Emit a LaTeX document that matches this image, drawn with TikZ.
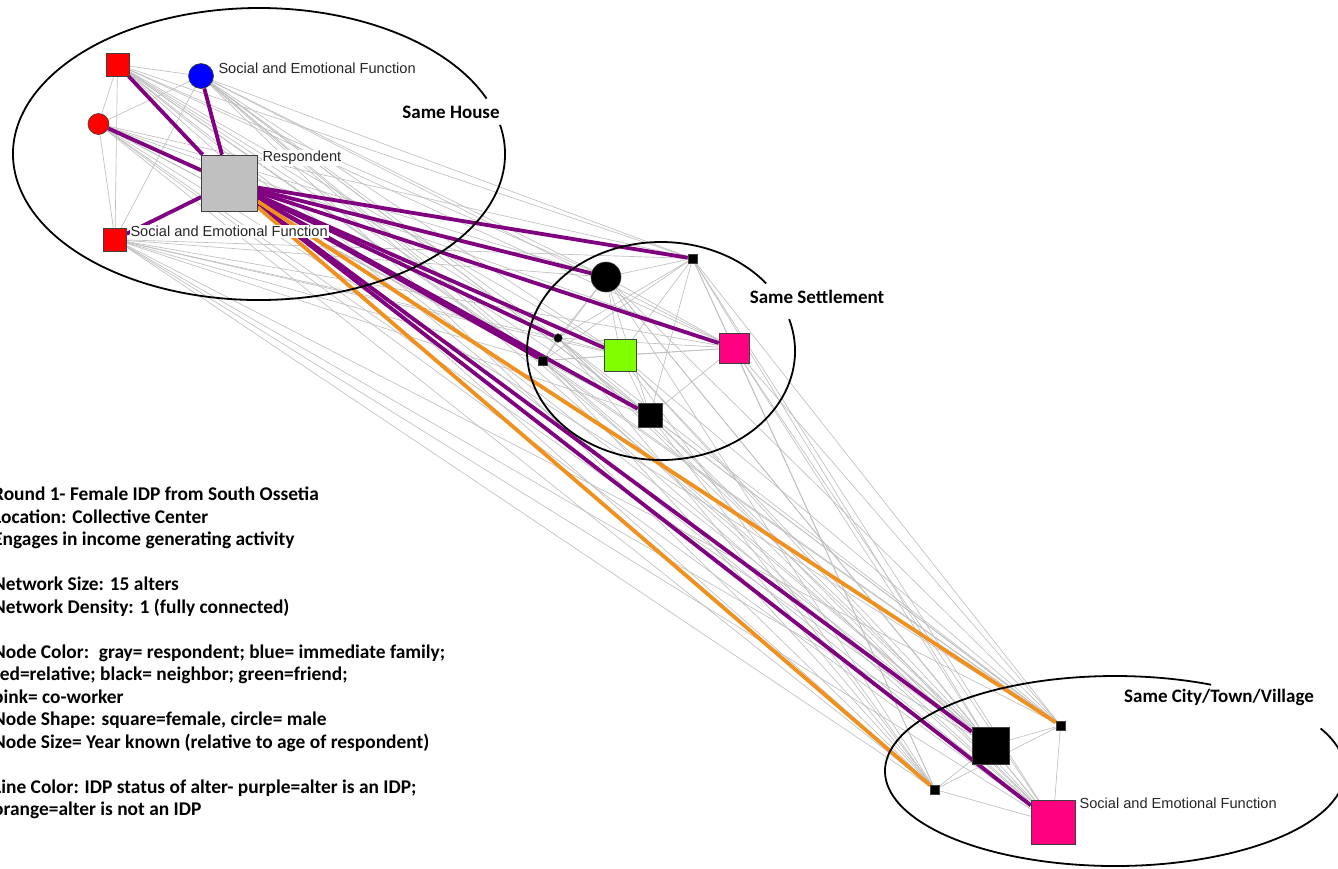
\documentclass[tikz,border=0pt]{standalone}
\usepackage{fontspec}
\setmainfont{Liberation Sans}
\newfontfamily\calib{Carlito}
\usepackage{xcolor}
\usepackage{tikz}
\definecolor{idpPurple}{HTML}{800080}
\definecolor{nonIdpOrange}{HTML}{F0901E}
\definecolor{tieGray}{HTML}{C0C0C0}
\definecolor{relRed}{HTML}{FF0000}
\definecolor{famBlue}{HTML}{0000FF}
\definecolor{friendGreen}{HTML}{80FF00}
\definecolor{coPink}{HTML}{FF0080}
\definecolor{respGray}{HTML}{C0C0C0}
\pgfdeclarelayer{bg}
\pgfdeclarelayer{ties}
\pgfsetlayers{bg,ties,main}

\tikzset{
  sq/.style={rectangle, draw=black!75, line width=0.6pt, inner sep=0pt, minimum size=#1},
  circ/.style={circle, draw=black!75, line width=0.6pt, inner sep=0pt, minimum size=#1},
  tie/.style={draw=tieGray, line width=0.65pt},
  idp/.style={draw=idpPurple, line width=3.8pt},
  nonidp/.style={draw=nonIdpOrange, line width=3.8pt},
  zone/.style={draw=black, line width=1.8pt},
  zonelbl/.style={font=\calib\bfseries\fontsize{19}{22}\selectfont, inner sep=1pt},
  fnlbl/.style={font=\fontsize{14.6}{16}\selectfont, fill=white, inner sep=1pt, anchor=west, text=black!85},
  legend/.style={font=\calib\bfseries\fontsize{19.4}{22.5}\selectfont, align=left, inner sep=0pt, anchor=north west}
}

\begin{document}
\begin{tikzpicture}[x=1pt, y=-1pt]
  \useasboundingbox (0,0) rectangle (1338,868);
  \begin{pgfonlayer}{bg}
    \fill[white] (0,0) rectangle (1338,868);
  \end{pgfonlayer}

  % Location rings
  \draw[zone] ([shift={(259,154)}]-11.5:246 and 146) arc[start angle=-11.5, end angle=337.7, x radius=246, y radius=146];
  \draw[zone] ([shift={(661,351)}]-17:134 and 109) arc[start angle=-17, end angle=321.7, x radius=134, y radius=109];
  \draw[zone] ([shift={(1115,771)}]-26.6:230 and 95) arc[start angle=-26.6, end angle=294.7, x radius=230, y radius=95];

  % Same house
  \node[sq=23pt, fill=relRed] (hA) at (117.5,64.5) {};
  \node[circ=25pt, fill=famBlue] (hB) at (201,76) {};
  \node[circ=21pt, fill=relRed] (hC) at (98.5,124) {};
  \node[sq=56pt, fill=respGray] (resp) at (229.5,183) {};
  \node[sq=23pt, fill=relRed] (hD) at (115,239.5) {};

  % Same settlement
  \node[sq=9pt, fill=black] (s1) at (692.5,258.5) {};
  \node[circ=30pt, fill=black] (s2) at (606,277) {};
  \node[circ=8.5pt, fill=black] (s3) at (558,338) {};
  \node[sq=9pt, fill=black] (s4) at (543,360.5) {};
  \node[sq=32pt, fill=friendGreen] (s5) at (620.5,355) {};
  \node[sq=30pt, fill=coPink] (s6) at (734,348) {};
  \node[sq=24pt, fill=black] (s7) at (650,415.5) {};

  % Same city/town/village
  \node[sq=9pt, fill=black] (c1) at (1060.5,725.5) {};
  \node[sq=37pt, fill=black] (c2) at (990.5,745.5) {};
  \node[sq=9pt, fill=black] (c3) at (935,789.5) {};
  \node[sq=44pt, fill=coPink] (c4) at (1053,822.5) {};

  % Ties
  \begin{pgfonlayer}{ties}
    \foreach \a [count=\i] in {hA,hB,hC,hD,s1,s2,s3,s4,s5,s6,s7,c1,c2,c3,c4}{
      \foreach \b [count=\j] in {hA,hB,hC,hD,s1,s2,s3,s4,s5,s6,s7,c1,c2,c3,c4}{
        \ifnum\j>\i \draw[tie] (\a) -- (\b); \fi
      }
    }
    \foreach \b in {hA,hB,hC,hD,s1,s2,s3,s4,s5,s6,s7,c2,c4}
      \draw[idp] (resp) -- (\b);
    \foreach \b in {c1,c3}
      \draw[nonidp] (resp) -- (\b);
  \end{pgfonlayer}

  % Labels
  \node[fnlbl] (hBlbl) at ([shift={(3.5,-8)}]hB.east) {Social and Emotional Function};
  \node[fnlbl] (resplbl) at ([shift={(3.5,3.5)}]resp.north east) {Respondent};
  \node[fnlbl] (hDlbl) at ([shift={(2.5,3.5)}]hD.north east) {Social and Emotional Function};
  \node[fnlbl] (c4lbl) at ([shift={(3,3.5)}]c4.north east) {Social and Emotional Function};

  \node[zonelbl] (houselbl) at (451,112) {Same House};
  \node[zonelbl] (settlbl) at (817,297) {Same Settlement};
  \node[zonelbl] (citylbl) at (1219,697) {Same City/Town/Village};

  % Legend
  \node[legend] (legendtxt) at (-7,487) {Round 1- Female IDP from South Ossetia\\
    Location: Collective Center\\
    Engages in income generating activity\\[22.5pt]
    Network Size: 15 alters\\
    Network Density: 1 (fully connected)\\[22.5pt]
    Node Color:\enspace gray= respondent; blue= immediate family;\\
    red=relative; black= neighbor; green=friend;\\
    pink= co-worker\\
    Node Shape: square=female, circle= male\\
    Node Size= Year known (relative to age of respondent)\\[22.5pt]
    Line Color: IDP status of alter- purple=alter is an IDP;\\
    orange=alter is not an IDP};
\end{tikzpicture}
\end{document}
